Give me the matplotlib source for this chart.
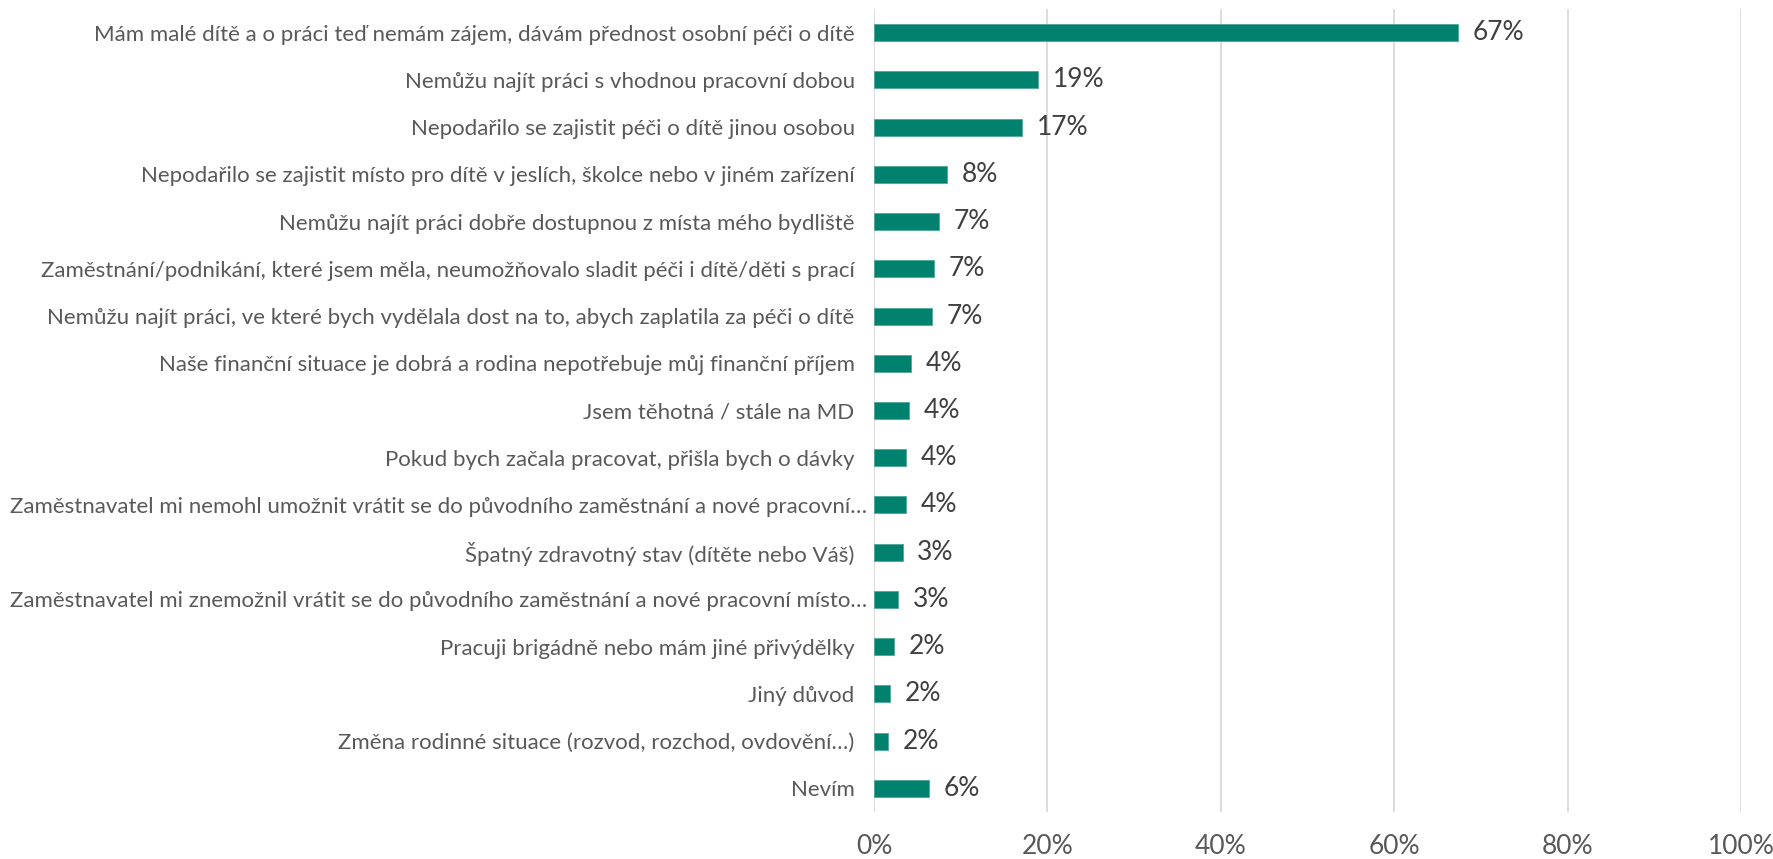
import matplotlib.pyplot as plt
from matplotlib.ticker import FuncFormatter
from matplotlib.transforms import ScaledTranslation

# reasons (top to bottom) and shares in %
reasons = [
    "Mám malé dítě a o práci teď nemám zájem, dávám přednost osobní péči o dítě",
    "Nemůžu najít práci s vhodnou pracovní dobou",
    "Nepodařilo se zajistit péči o dítě jinou osobou",
    "Nepodařilo se zajistit místo pro dítě v jeslích, školce nebo v jiném zařízení",
    "Nemůžu najít práci dobře dostupnou z místa mého bydliště",
    "Zaměstnání/podnikání, které jsem měla, neumožňovalo sladit péči i dítě/děti s prací",
    "Nemůžu najít práci, ve které bych vydělala dost na to, abych zaplatila za péči o dítě",
    "Naše finanční situace je dobrá a rodina nepotřebuje můj finanční příjem",
    "Jsem těhotná / stále na MD",
    "Pokud bych začala pracovat, přišla bych o dávky",
    "Zaměstnavatel mi nemohl umožnit vrátit se do původního zaměstnání a nové pracovní…",
    "Špatný zdravotný stav (dítěte nebo Váš)",
    "Zaměstnavatel mi znemožnil vrátit se do původního zaměstnání a nové pracovní místo…",
    "Pracuji brigádně nebo mám jiné přivýdělky",
    "Jiný důvod",
    "Změna rodinné situace (rozvod, rozchod, ovdovění…)",
    "Nevím",
]
shares = [67.4, 18.9, 17.1, 8.45, 7.45, 6.9, 6.65, 4.3, 4.05, 3.7, 3.7, 3.3,
          2.75, 2.3, 1.8, 1.65, 6.3]
x_ticks = [0, 20, 40, 60, 80, 100]

BAR = "#00826F"
GRID = "#D9D9D9"
TEXT = "#595959"

plt.rcParams["font.family"] = ["Lato", "DejaVu Sans"]

fig = plt.figure(figsize=(17.73, 8.59), dpi=100)
ax = fig.add_axes([0.493, 0.0547, 0.489, 0.9348])

ypos = list(range(len(reasons)))
ax.barh(ypos, shares, height=0.36, color=BAR, edgecolor="#4FA898", linewidth=0.6, zorder=3)

for y, v in zip(ypos, shares):
    ax.annotate(f"{v:.0f}%", xy=(v, y), xytext=(10.5, 0), textcoords="offset points",
                ha="left", va="center", fontsize=19, color="#404040")

ax.set_xlim(0, 100)
ax.set_ylim(len(reasons) - 0.5, -0.5)
ax.set_xticks(x_ticks)
ax.xaxis.set_major_formatter(FuncFormatter(lambda v, p: f"{v:.0f}%"))
ax.set_yticks(ypos)
ax.set_yticklabels(reasons)

ax.grid(axis="x", color=GRID, linewidth=1.3, zorder=0)
ax.tick_params(axis="x", length=0, pad=16, labelsize=19, labelcolor=TEXT)
ax.tick_params(axis="y", length=0, pad=14, labelsize=16, labelcolor=TEXT)
for s in ax.spines.values():
    s.set_visible(False)

# truncated labels sit a little closer to the axis in the original
shift = ScaledTranslation(0.12, 0, fig.dpi_scale_trans)
for lbl in ax.get_yticklabels():
    if lbl.get_text().endswith("…") and not lbl.get_text().endswith("…)"):
        lbl.set_transform(lbl.get_transform() + shift)

fig.savefig("out.png", dpi=100, facecolor="white")
